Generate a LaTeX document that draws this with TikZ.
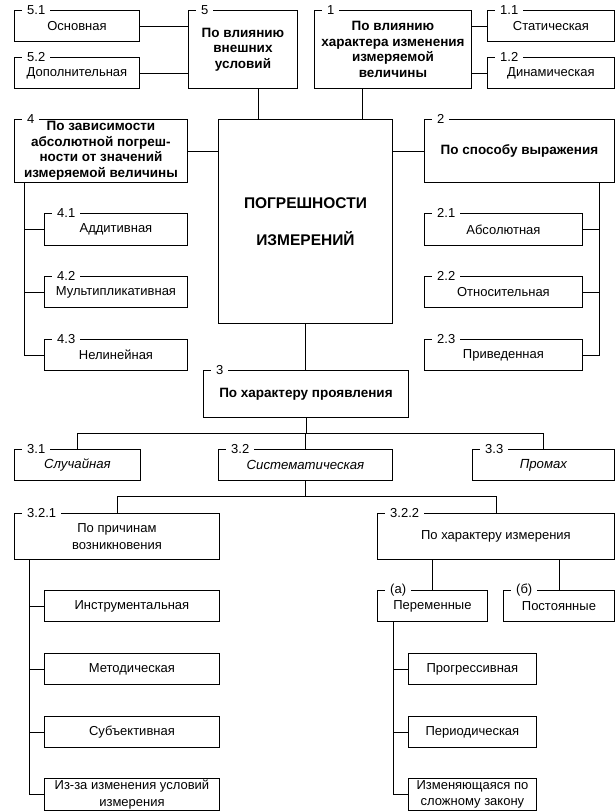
\documentclass[tikz,border=0pt]{standalone}
\usepackage{fontspec}
\setmainfont{Liberation Sans}
\usetikzlibrary{calc}
\tikzset{
  box/.style={draw, line width=0.9pt, inner sep=1pt, align=center,
    font=\fontsize{13}{16.5}\selectfont},
  bbox/.style={font=\fontsize{13.5}{15.5}\selectfont\bfseries},
  ibox/.style={font=\fontsize{13.2}{16}\selectfont\itshape},
  cbox/.style={font=\fontsize{15.5}{37}\selectfont\bfseries},
  lbl/.style={fill=white, inner xsep=5pt, inner ysep=1pt,
    font=\fontsize{13}{15}\selectfont},
  conn/.style={line width=0.9pt}
}
\newcommand\mybox[7]{\node[box,#6,anchor=north west,minimum width=#4-#2,minimum height=#5-#3] (#1) at (#2,#3) {#7};}
\newcommand\mylbl[2]{\node[lbl,anchor=west] (l#1) at ([xshift=8pt]#1.north west) {#2};}
\begin{document}
\begin{tikzpicture}[x=1pt,y=-1pt]
\useasboundingbox[fill=white] (0,0) rectangle (616,812);
% top row
\mybox{n51}{14}{10}{139}{41}{}{Основная}
\mybox{n52}{14}{57}{139}{88}{}{Дополнительная}
\mybox{n5}{188}{10}{297}{88}{bbox}{По влиянию\\внешних\\условий}
\mybox{n1}{314}{10}{471}{88}{bbox}{По влиянию\\характера изменения\\измеряемой\\величины}
\mybox{n11}{487}{10}{614}{41}{}{Статическая}
\mybox{n12}{487}{57}{614}{88}{}{Динамическая}
% middle
\mybox{n4}{14}{119}{187}{182}{bbox}{По зависимости\\абсолютной погреш-\\ности от значений\\измеряемой величины}
\mybox{nC}{218}{119}{392}{323}{cbox}{ПОГРЕШНОСТИ\\ИЗМЕРЕНИЙ}
\mybox{n2}{424}{119}{614}{182}{bbox}{По способу выражения}
\mybox{n41}{44}{213}{187}{245}{}{Аддитивная}
\mybox{n42}{44}{276}{187}{307}{}{Мультипликативная}
\mybox{n43}{44}{339}{187}{370}{}{Нелинейная}
\mybox{n21}{424}{213}{582}{245}{}{Абсолютная}
\mybox{n22}{424}{276}{582}{307}{}{Относительная}
\mybox{n23}{424}{339}{582}{370}{}{Приведенная}
% 3
\mybox{n3}{203}{370}{408}{417}{bbox}{По характеру проявления}
\mybox{n31}{14}{449}{140}{480}{ibox}{Случайная}
\mybox{n32}{218}{449}{392}{480}{ibox}{Систематическая}
\mybox{n33}{472}{449}{614}{480}{ibox}{Промах}
\mybox{n321}{14}{513}{219}{559}{}{По причинам\\возникновения}
\mybox{n322}{377}{513}{614}{559}{}{По характеру измерения}
\mybox{nA}{377}{590}{487}{621}{}{Переменные}
\mybox{nB}{503}{590}{614}{621}{}{Постоянные}
\mybox{ni1}{44}{590}{219}{621}{}{Инструментальная}
\mybox{ni2}{44}{653}{219}{684}{}{Методическая}
\mybox{ni3}{44}{716}{219}{747}{}{Субъективная}
\mybox{ni4}{44}{778}{219}{810}{}{Из-за изменения условий\\измерения}
\mybox{np1}{408}{653}{536}{684}{}{Прогрессивная}
\mybox{np2}{408}{716}{536}{747}{}{Периодическая}
\mybox{np3}{408}{778}{536}{810}{}{Изменяющаяся по\\сложному закону}
% labels
\mylbl{n51}{5.1}\mylbl{n52}{5.2}\mylbl{n5}{5}\mylbl{n1}{1}
\mylbl{n11}{1.1}\mylbl{n12}{1.2}\mylbl{n4}{4}\mylbl{n2}{2}
\mylbl{n41}{4.1}\mylbl{n42}{4.2}\mylbl{n43}{4.3}
\mylbl{n21}{2.1}\mylbl{n22}{2.2}\mylbl{n23}{2.3}
\mylbl{n3}{3}\mylbl{n31}{3.1}\mylbl{n32}{3.2}\mylbl{n33}{3.3}
\mylbl{n321}{3.2.1}\mylbl{n322}{3.2.2}\mylbl{nA}{(а)}\mylbl{nB}{(б)}
% connectors
\draw[conn] (n51.east) -- (n51.east -| n5.west);
\draw[conn] (n52.east) -- (n52.east -| n5.west);
\draw[conn] (n11.west) -- (n11.west -| n1.east);
\draw[conn] (n12.west) -- (n12.west -| n1.east);
\coordinate (c5) at (258,0);
\coordinate (c1) at (362,0);
\draw[conn] (c5 |- n5.south) -- (c5 |- nC.north);
\draw[conn] (c1 |- n1.south) -- (c1 |- nC.north);
\draw[conn] (n4.east) -- (n4.east -| nC.west);
\draw[conn] (n2.west) -- (n2.west -| nC.east);
\draw[conn] (nC.south) -- (nC.south |- n3.north);
% trunk 4
\coordinate (t4) at (24,0);
\draw[conn] (t4 |- n4.south) -- (t4 |- n43.west) -- (n43.west);
\draw[conn] (t4 |- n41.west) -- (n41.west);
\draw[conn] (t4 |- n42.west) -- (n42.west);
% trunk 2
\coordinate (t2) at (599,0);
\draw[conn] (t2 |- n2.south) -- (t2 |- n23.east) -- (n23.east);
\draw[conn] (t2 |- n21.east) -- (n21.east);
\draw[conn] (t2 |- n22.east) -- (n22.east);
% level 3
\coordinate (h3) at (0,433);
\draw[conn] (n3.south) -- (n3.south |- h3);
\draw[conn] (n31.north) -- (n31.north |- h3) -- (n33.north |- h3) -- (n33.north);
\draw[conn] (n32.north) -- (n32.north |- h3);
\coordinate (h32) at (0,496);
\draw[conn] (n32.south) -- (n32.south |- h32);
\draw[conn] (n321.north) -- (n321.north |- h32) -- (n322.north |- h32) -- (n322.north);
% 3.2.2 children
\draw[conn] (nA.north) -- (nA.north |- n322.south);
\draw[conn] (nB.north) -- (nB.north |- n322.south);
% trunk 3.2.1
\coordinate (t321) at (29.5,0);
\draw[conn] (t321 |- n321.south) -- (t321 |- ni4.west) -- (ni4.west);
\draw[conn] (t321 |- ni1.west) -- (ni1.west);
\draw[conn] (t321 |- ni2.west) -- (ni2.west);
\draw[conn] (t321 |- ni3.west) -- (ni3.west);
% trunk A
\coordinate (tA) at (393,0);
\draw[conn] (tA |- nA.south) -- (tA |- np3.west) -- (np3.west);
\draw[conn] (tA |- np1.west) -- (np1.west);
\draw[conn] (tA |- np2.west) -- (np2.west);
\end{tikzpicture}
\end{document}
